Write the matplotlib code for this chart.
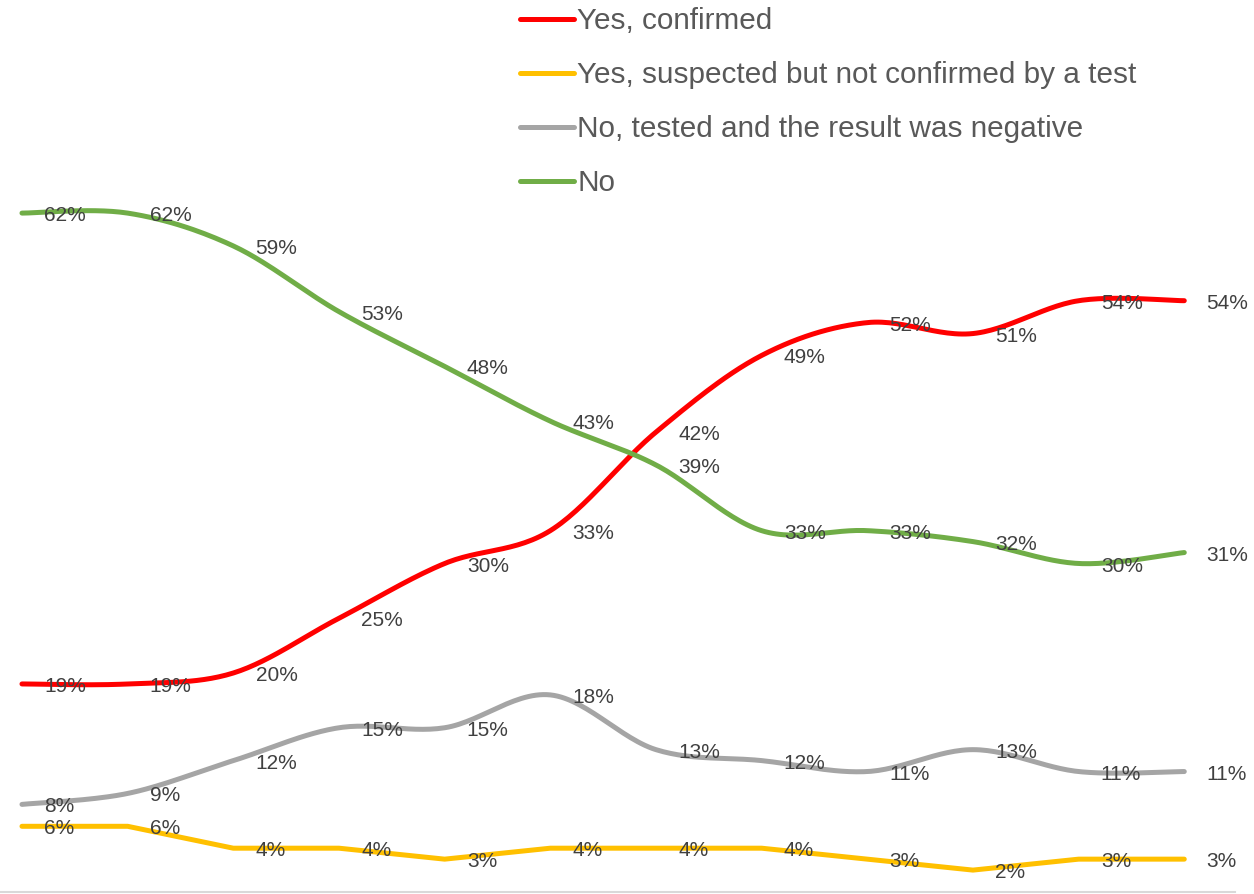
import numpy as np
import matplotlib
matplotlib.use("Agg")
import matplotlib.pyplot as plt
from matplotlib.lines import Line2D

plt.rcParams['font.family'] = ['Liberation Sans', 'DejaVu Sans']

# ---- data ----
series_names = ["Yes, confirmed",
                "Yes, suspected but not confirmed by a test",
                "No, tested and the result was negative",
                "No"]
yes_confirmed = [19, 19, 20, 25, 30, 33, 42, 49, 52, 51, 54, 54]
yes_suspected = [6, 6, 4, 4, 3, 4, 4, 4, 3, 2, 3, 3]
no_tested_neg = [8, 9, 12, 15, 15, 18, 13, 12, 11, 13, 11, 11]
no_answer = [62, 62, 59, 53, 48, 43, 39, 33, 33, 32, 30, 31]
colors = ["#FF0000", "#FFC000", "#A5A5A5", "#70AD47"]
smooth = [True, False, True, True]


def catmull(xs, ys, n=30):
    xs = np.asarray(xs, float); ys = np.asarray(ys, float)
    P = np.column_stack([xs, ys])
    P = np.vstack([P[0], P, P[-1]])
    out = []
    t = np.linspace(0, 1, n)
    for i in range(1, len(P) - 2):
        p0, p1, p2, p3 = P[i - 1], P[i], P[i + 1], P[i + 2]
        c1 = p1 + (p2 - p0) / 6.0
        c2 = p2 - (p3 - p1) / 6.0
        seg = ((1 - t) ** 3)[:, None] * p1 + (3 * (1 - t) ** 2 * t)[:, None] * c1 \
            + (3 * (1 - t) * t ** 2)[:, None] * c2 + (t ** 3)[:, None] * p2
        out.append(seg if i == 1 else seg[1:])
    out = np.vstack(out)
    return out[:, 0], out[:, 1]


W, H = 1254, 894
fig = plt.figure(figsize=(W / 100, H / 100), dpi=100)
ax = fig.add_axes([0, 2 / H, 1235 / W, 692 / H])
ax.set_xlim(-0.208, 11.48)
ax.set_ylim(0, 692 / 10.95)
for s in ["top", "right", "left"]:
    ax.spines[s].set_visible(False)
ax.spines["bottom"].set_color("#D9D9D9")
ax.spines["bottom"].set_linewidth(1.5)
ax.set_xticks([]); ax.set_yticks([])

x = np.arange(len(yes_confirmed))
all_series = [yes_confirmed, yes_suspected, no_tested_neg, no_answer]
for name, vals, c, sm in zip(series_names, all_series, colors, smooth):
    if sm:
        xs, ys = catmull(x, vals)
    else:
        xs, ys = x, vals
    ax.plot(xs, ys, color=c, lw=3.6, solid_capstyle='round',
            solid_joinstyle='round', clip_on=False, label=name)

for vals in all_series:
    for xi, v in zip(x, vals):
        ax.annotate(f"{v}%", (xi, v), xytext=(16, -1.8), textcoords='offset points',
                    ha='left', va='center', fontsize=15, color="#404040")

handles = [Line2D([], [], color=c, lw=3.6, solid_capstyle='round') for c in colors]
leg = fig.legend(handles, series_names, loc='upper left',
                 bbox_to_anchor=(520 / W, 1 - 7 / H), frameon=False,
                 fontsize=21.4, handlelength=1.8, handletextpad=0.12,
                 labelspacing=0.88, borderpad=0, borderaxespad=0)
for t in leg.get_texts():
    t.set_color("#595959")

fig.savefig("out.png", dpi=100)
